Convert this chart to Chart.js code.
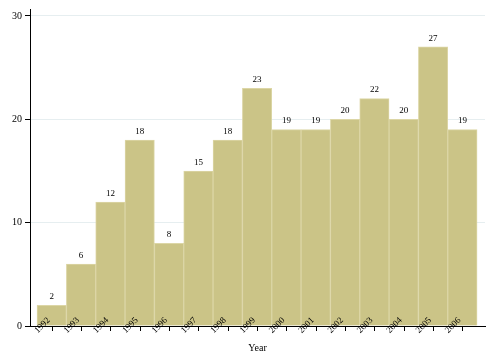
<!DOCTYPE html>
<html><head><meta charset="utf-8">
<script src="https://cdn.jsdelivr.net/npm/chart.js@4/dist/chart.umd.min.js"></script>
<style>html,body{margin:0;padding:0;background:#fff}#wrap{width:493px;height:360px}</style>
</head><body><div id="wrap"><canvas id="c" width="493" height="360"></canvas></div>
<script>
const years = [1992,1993,1994,1995,1996,1997,1998,1999,2000,2001,2002,2003,2004,2005,2006];
const counts = [2,6,12,18,8,15,18,23,19,19,20,22,20,27,19];
const yTicks = [0,10,20,30];
const xTitle = "Year";

const overlayText = {
  id:'overlayText',
  afterDatasetsDraw(chart){
    const ctx = chart.ctx;
    const meta = chart.getDatasetMeta(0);
    const xs = chart.scales.x;
    ctx.save();
    ctx.font = '9px "Liberation Serif"';
    ctx.fillStyle = '#000';
    ctx.textAlign = 'center';
    ctx.textBaseline = 'bottom';
    meta.data.forEach((el,i)=>{ ctx.fillText(String(counts[i]), el.x, el.y - 4); });
    const axisY = chart.chartArea.bottom;
    // tick marks
    ctx.strokeStyle = '#000';
    ctx.lineWidth = 1;
    years.forEach(yr=>{
      const px = Math.round(xs.getPixelForValue(yr)) + 0.5;
      ctx.beginPath(); ctx.moveTo(px, axisY); ctx.lineTo(px, axisY + 5); ctx.stroke();
    });
    ctx.textAlign = 'right';
    ctx.textBaseline = 'middle';
    years.forEach(yr=>{
      const px = xs.getPixelForValue(yr);
      ctx.save();
      ctx.translate(px - 3, axisY - 7);
      ctx.rotate(-Math.PI/4);
      ctx.fillText(String(yr), 0, 0);
      ctx.restore();
    });
    ctx.restore();
  }
};

new Chart(document.getElementById('c'), {
  type:'bar',
  data:{ datasets:[{ data: years.map((y,i)=>({x:y,y:counts[i]})),
    backgroundColor:'#cbc487', borderColor:'#dcd6a6', borderWidth:1,
    barPercentage:1, categoryPercentage:1 }]},
  options:{
    responsive:false, animation:false, devicePixelRatio:1,
    layout:{padding:{left:0,right:8,top:7,bottom:0}},
    plugins:{legend:{display:false}, tooltip:{enabled:false}},
    scales:{
      x:{ type:'linear', min:1991.26, max:2006.77, offset:false,
        afterBuildTicks(s){ s.ticks = years.map(v=>({value:v})); },
        afterFit(s){ s.height = 34; },
        ticks:{ display:false },
        grid:{ offset:false, drawOnChartArea:false, drawTicks:false },
        border:{ display:true, color:'#000', width:1 },
        title:{ display:true, text:xTitle, font:{family:'Liberation Serif', size:10}, color:'#000', padding:{top:0,bottom:6} }
      },
      y:{ min:0, max:30.67,
        afterBuildTicks(s){ s.ticks = yTicks.map(v=>({value:v})); },
        afterFit(s){ s.width = 30; },
        ticks:{ font:{family:'Liberation Serif', size:10}, color:'#000', padding:3 },
        grid:{ color:(c)=> c.tick && c.tick.value===0 ? 'rgba(0,0,0,0)' : '#e6eef0', tickColor:'#000', tickLength:5, drawTicks:true },
        border:{ display:true, color:'#000', width:1 }
      }
    }
  },
  plugins:[overlayText]
});
</script></body></html>
